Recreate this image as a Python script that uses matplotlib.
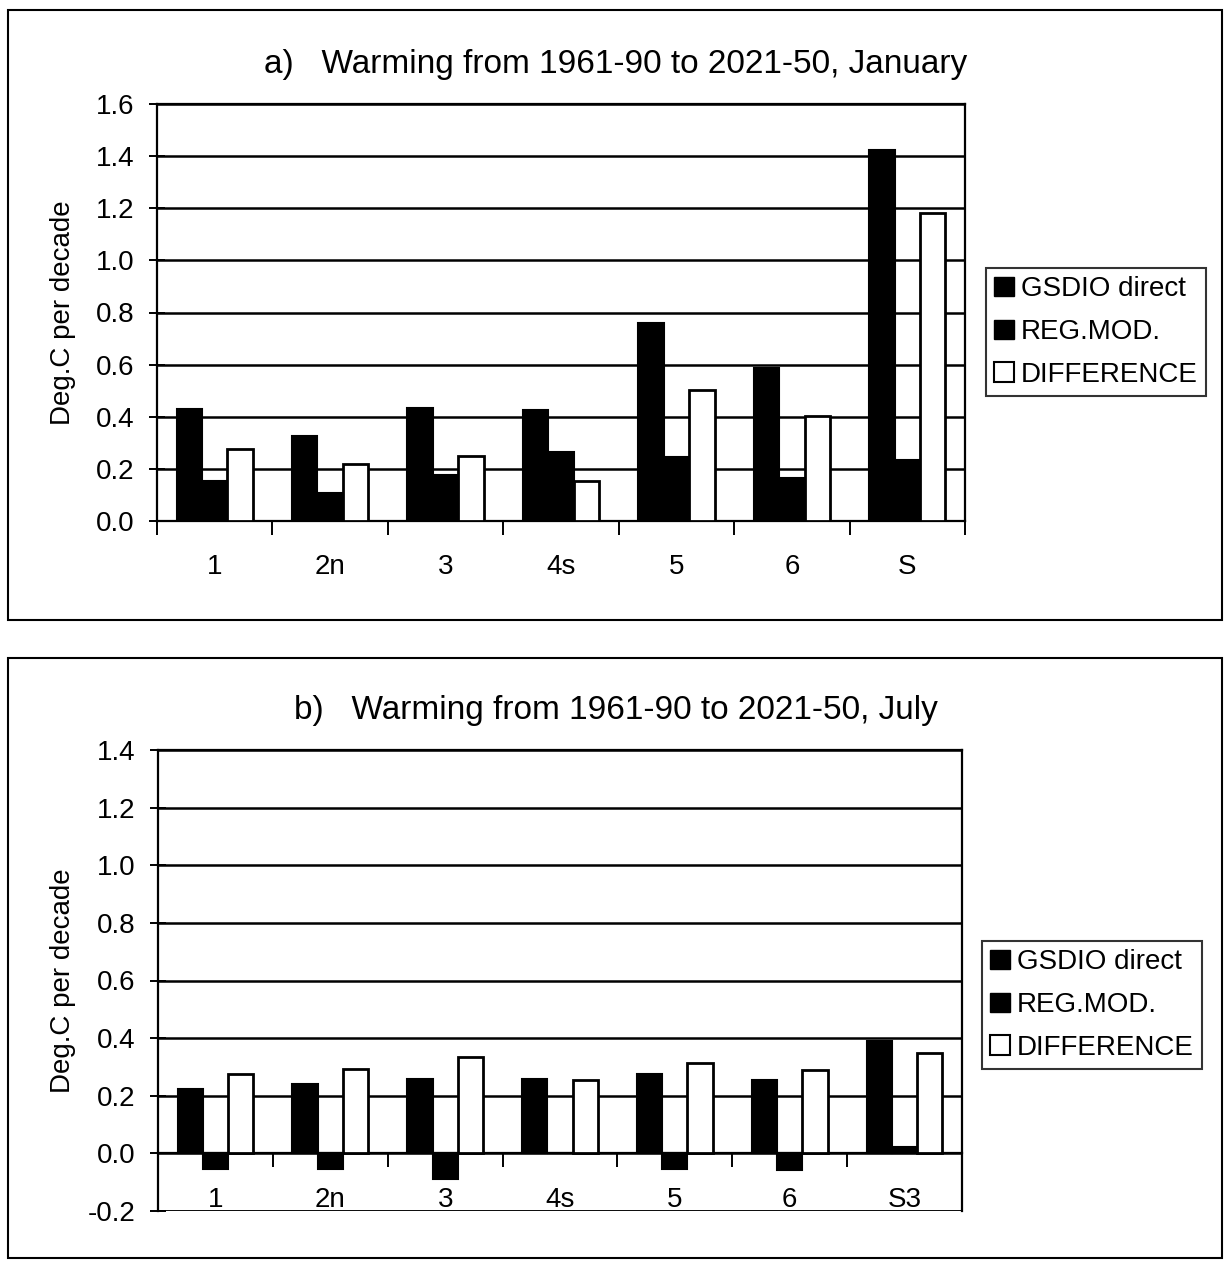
import numpy as np
import matplotlib
matplotlib.use("Agg")
import matplotlib.pyplot as plt
from matplotlib.patches import Rectangle, Patch

plt.rcParams['font.family'] = ['Liberation Sans', 'DejaVu Sans']
plt.rcParams['axes.unicode_minus'] = False

# panel a: January
cats_a = ["1", "2n", "3", "4s", "5", "6", "S"]
gsdio_a = [0.43, 0.325, 0.433, 0.424, 0.758, 0.586, 1.424]
regmod_a = [0.153, 0.108, 0.178, 0.264, 0.246, 0.166, 0.233]
diff_a = [0.278, 0.217, 0.251, 0.155, 0.503, 0.404, 1.181]

# panel b: July
cats_b = ["1", "2n", "3", "4s", "5", "6", "S3"]
gsdio_b = [0.222, 0.242, 0.259, 0.257, 0.274, 0.253, 0.39]
regmod_b = [-0.054, -0.054, -0.088, 0.0, -0.054, -0.056, 0.023]
diff_b = [0.274, 0.292, 0.335, 0.253, 0.315, 0.288, 0.35]

series_names = ["GSDIO direct", "REG.MOD.", "DIFFERENCE"]

W, H = 1224, 1261
fig = plt.figure(figsize=(W / 100, H / 100), dpi=100)


def px_box(x0, y0, x1, y1):
    # pixel box (top-left origin) -> figure fraction [l, b, w, h]
    return [x0 / W, 1 - y1 / H, (x1 - x0) / W, (y1 - y0) / H]


def frame(x0, y0, x1, y1):
    l, b, w, h = px_box(x0, y0, x1, y1)
    fig.patches.append(Rectangle((l, b), w, h, transform=fig.transFigure,
                                 fill=False, edgecolor="black", linewidth=1.5))


def panel(rect, cats, g, r, d, ylim, yticks, title, title_y, leg_center, zero_axis):
    ax = fig.add_axes(rect)
    n = len(cats)
    x = np.arange(n)
    bw = 0.22
    ax.bar(x - bw, g, bw, color="black", edgecolor="black", linewidth=1.5, zorder=3)
    ax.bar(x, r, bw, color="black", edgecolor="black", linewidth=1.5, zorder=3)
    ax.bar(x + bw, d, bw, color="white", edgecolor="black", linewidth=2, zorder=3)
    ax.set_xlim(-0.5, n - 0.5)
    ax.set_ylim(*ylim)
    ax.set_yticks(yticks)
    ax.set_yticklabels([f"{v:.1f}" for v in yticks])
    ax.yaxis.grid(True, color="black", linewidth=1.8, zorder=0)
    ax.set_axisbelow(True)
    ax.set_xticks(x)
    ax.set_xticklabels(cats)
    ax.set_xticks(np.arange(-0.5, n, 1.0), minor=True)
    ax.tick_params(axis="x", which="major", length=0, pad=24, labelsize=20)
    ax.tick_params(axis="x", which="minor", length=10, width=1.4, direction="out")
    ax.tick_params(axis="y", length=11, width=1.4, direction="inout", labelsize=20, pad=11)
    for s in ax.spines.values():
        s.set_linewidth(1.6)
    if zero_axis:
        ax.spines["bottom"].set_position(("data", 0))
        ax.axhline(ylim[0], color="black", linewidth=1.8, zorder=1)
    yc = rect[1] + rect[3] / 2
    fig.text(63 / W, yc, "Deg.C per decade", rotation=90, ha="center", va="center", fontsize=20)
    fig.text(616 / W, title_y, title, ha="center", va="center", fontsize=24)
    handles = [Patch(facecolor="black", edgecolor="black"),
               Patch(facecolor="black", edgecolor="black"),
               Patch(facecolor="white", edgecolor="black", linewidth=1.5)]
    leg = fig.legend(handles, series_names, loc="center", bbox_to_anchor=leg_center,
                     bbox_transform=fig.transFigure, fontsize=20, frameon=True, fancybox=False,
                     handlelength=0.7, handleheight=0.7, handletextpad=0.25, labelspacing=0.6,
                     borderpad=0.3, borderaxespad=0)
    leg.get_frame().set_edgecolor("black")
    leg.get_frame().set_linewidth(1.5)
    return ax


frame(8, 10, 1222, 620)
frame(8, 658, 1222, 1258)

panel(px_box(157, 104, 965, 521), cats_a, gsdio_a, regmod_a, diff_a,
      (0, 1.6), np.round(np.arange(0, 1.61, 0.2), 1),
      "a)   Warming from 1961-90 to 2021-50, January", 1 - 65 / H,
      (1096 / W, 1 - 332 / H), False)

panel(px_box(158, 750, 962, 1211), cats_b, gsdio_b, regmod_b, diff_b,
      (-0.2, 1.4), np.round(np.arange(-0.2, 1.41, 0.2), 1),
      "b)   Warming from 1961-90 to 2021-50, July", 1 - 710 / H,
      (1092 / W, 1 - 1005 / H), True)

fig.savefig("out.png", dpi=100)
